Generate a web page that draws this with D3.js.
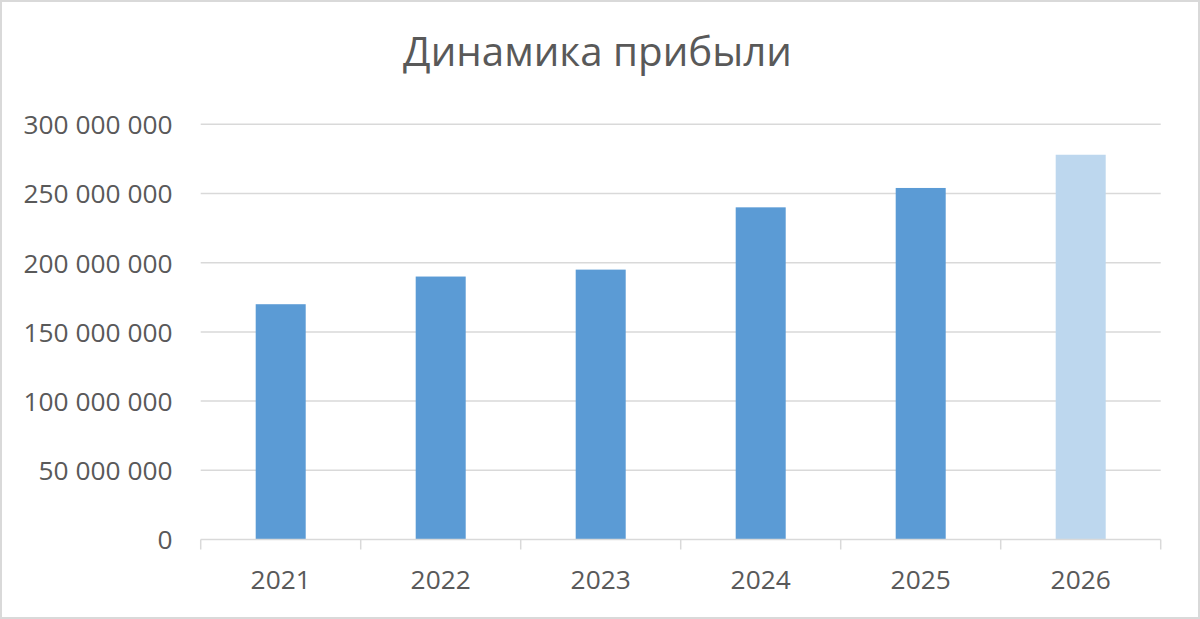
<!DOCTYPE html>
<html>
<head>
<meta charset="utf-8">
<script src="https://cdn.jsdelivr.net/npm/d3@7/dist/d3.min.js"></script>
<style>
html,body{margin:0;padding:0;background:#fff;}
svg{display:block;}
</style>
</head>
<body>
<svg id="chart" width="1200" height="619"></svg>
<script>
const categories = ["2021","2022","2023","2024","2025","2026"];
const profit = [170000000, 190000000, 195000000, 240000000, 254000000, 278000000];
const forecast = [false, false, false, false, false, true];
const yTicks = [0, 50000000, 100000000, 150000000, 200000000, 250000000, 300000000];
const titleText = "Динамика прибыли";

const W = 1200, H = 619;
const margin = {left: 200.7, right: 1200 - 1160.7, top: 124.3, bottom: 619 - 539.5};
const svg = d3.select("#chart");
const font = "'Open Sans', 'Noto Sans', sans-serif";
const textColor = "#595959";
const gridColor = "#D9D9D9";

// border
svg.append("rect").attr("x", 1).attr("y", 1).attr("width", W - 2).attr("height", H - 2)
  .attr("fill", "#fff").attr("stroke", gridColor).attr("stroke-width", 2);

const x = d3.scaleBand().domain(categories)
  .range([margin.left, W - margin.right])
  .paddingInner(0.6875).paddingOuter(0.34375);
const y = d3.scaleLinear().domain([0, 300000000]).range([H - margin.bottom, margin.top]);

const fmt = v => d3.format(",")(v).replace(/,/g, " ");

// grid
svg.append("g").selectAll("line").data(yTicks.filter(d => d > 0)).join("line")
  .attr("x1", margin.left).attr("x2", W - margin.right)
  .attr("y1", d => y(d)).attr("y2", d => y(d))
  .attr("stroke", gridColor).attr("stroke-width", 1.5);

// y axis labels
const yAxis = d3.axisLeft(y).tickValues(yTicks).tickFormat(fmt).tickSize(0).tickPadding(0);
const gy = svg.append("g").attr("transform", `translate(172.5,0)`).call(yAxis);
gy.select(".domain").remove();
gy.selectAll("text").attr("font-family", font).attr("font-size", 26.3)
  .attr("fill", textColor).attr("dy", "0.36em");

// bars
svg.append("g").selectAll("rect").data(categories).join("rect")
  .attr("x", d => x(d)).attr("width", x.bandwidth())
  .attr("y", (d, i) => y(profit[i]))
  .attr("height", (d, i) => y(0) - y(profit[i]))
  .attr("fill", (d, i) => forecast[i] ? "#BDD7EE" : "#5B9BD5");

// x axis
const xAxis = d3.axisBottom(x).tickSize(0).tickPadding(0);
const gx = svg.append("g").attr("transform", `translate(0,${y(0)})`).call(xAxis);
gx.select(".domain").attr("stroke", gridColor).attr("stroke-width", 1.5)
  .attr("d", `M${margin.left},0H${W - margin.right}`);
gx.selectAll("text").attr("font-family", font).attr("font-size", 26.3)
  .attr("fill", textColor).attr("y", 49).attr("dy", 0);
// category boundary tick marks
const bounds = categories.map((c, i) => margin.left + i * x.step());
bounds.push(W - margin.right);
gx.append("g").selectAll("line").data(bounds).join("line")
  .attr("x1", d => d).attr("x2", d => d).attr("y1", 0).attr("y2", 10)
  .attr("stroke", gridColor).attr("stroke-width", 1.5);

// title
svg.append("text").attr("x", 597.5).attr("y", 66)
  .attr("text-anchor", "middle").attr("font-family", font).attr("font-size", 40.3)
  .attr("fill", textColor).text(titleText);
</script>
</body>
</html>
